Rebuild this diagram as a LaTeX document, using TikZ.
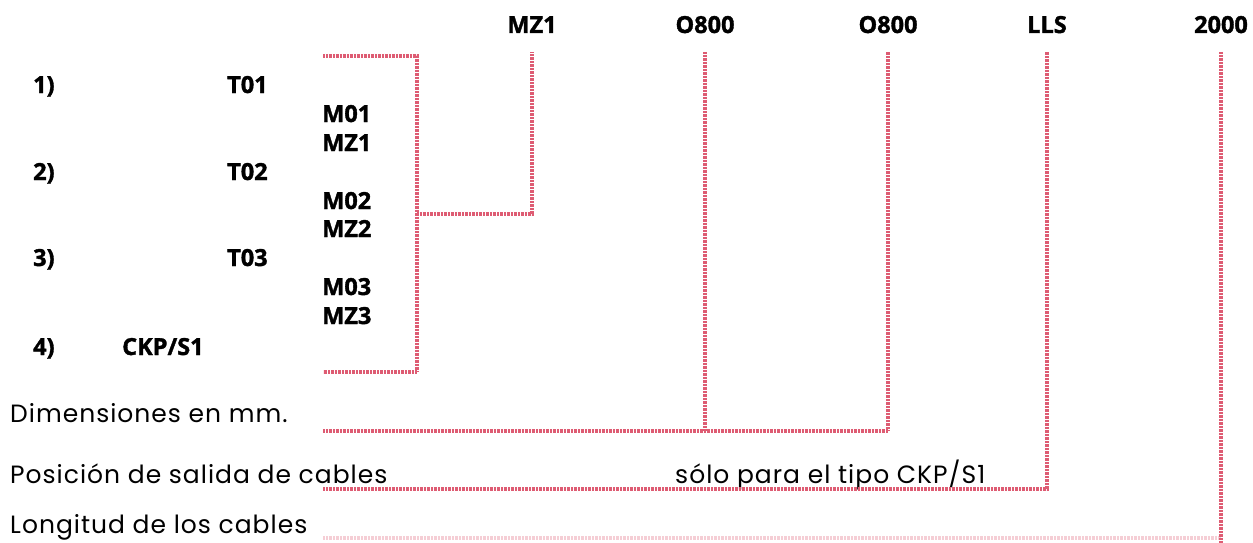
\documentclass[tikz,border=0pt]{standalone}
\usepackage{fontspec}
\setmainfont{Open Sans}
\newfontfamily\lblfam[BoldFeatures={FakeBold=1.5}]{Open Sans}
\newfontfamily\txtfam[LetterSpace=4]{Poppins}
\definecolor{cablered}{RGB}{222,92,115}
\newcommand{\lblfont}{\lblfam\fontsize{23.5}{27}\selectfont\bfseries}
\newcommand{\txtfont}{\txtfam\fontsize{25}{30}\selectfont}
\tikzset{
  lbl/.style={font=\lblfont,inner sep=0pt},
  txt/.style={font=\txtfont,inner sep=0pt,anchor=base west},
  cable/.style={draw=cablered,line width=3.8pt,dash pattern=on 0.8pt off 0.6pt}
}
\begin{document}
\begin{tikzpicture}[x=1pt,y=-1pt]
\useasboundingbox (0,0) rectangle (1253,543);

% cable types on top
\node[lbl,anchor=base] (mzA) at (532,33) {MZ1};
\node[lbl,anchor=base] (oA) at (705,33) {O800};
\node[lbl,anchor=base] (oB) at (888,33) {O800};
\node[lbl,anchor=base] (lls) at (1047,33) {LLS};
\node[lbl,anchor=base] (dosmil) at (1221,33) {2000};

% left column
\node[lbl,anchor=base west] (n1) at (33,93) {1)};
\node[lbl,anchor=base west] (n2) at (33,180) {2)};
\node[lbl,anchor=base west] (n3) at (33,266) {3)};
\node[lbl,anchor=base west] (n4) at (33,355) {4)};
\node[lbl,anchor=base west] (t1) at (227,93) {T01};
\node[lbl,anchor=base west] (t2) at (227,180) {T02};
\node[lbl,anchor=base west] (t3) at (227,266) {T03};
\node[lbl,anchor=base west] (ckp) at (122,355) {CKP/S1};
\node[lbl,anchor=base west] (m1) at (322,122) {M01};
\node[lbl,anchor=base west] (mz1) at (322,151) {MZ1};
\node[lbl,anchor=base west] (m2) at (322,209) {M02};
\node[lbl,anchor=base west] (mz2) at (322,237) {MZ2};
\node[lbl,anchor=base west] (m3) at (322,295) {M03};
\node[lbl,anchor=base west] (mz3) at (322,324) {MZ3};

% notes
\node[txt] (dim) at (10,422) {Dimensiones en mm.};
\node[txt] (pos) at (10,483) {Posición de salida de cables};
\node[txt] (solo) at (675,483) {sólo para el tipo CKP/S1};
\node[txt] (lon) at (10,533) {Longitud de los cables};

% line ends
\coordinate (brT) at (323,56);
\coordinate (brB) at (323,372);
\coordinate (brX) at (417,214);
\coordinate (dimL) at (323,431);
\coordinate (posL) at (323,489);
\coordinate (lonL) at (323,538);

\draw[cable] (brT) -| (brX) |- (brB);
\draw[cable] (brX) -| (mzA |- 0,52);
\draw[cable] (dimL) -| (oB |- 0,52);
\draw[cable] (oA |- 0,52) -- (oA |- dimL);
\draw[cable] (posL) -| (lls |- 0,52);
\draw[cable,opacity=.3] (lonL) -- (dosmil |- lonL);
\draw[cable] (dosmil |- 0,52) -- (dosmil |- 0,543);
\end{tikzpicture}
\end{document}
